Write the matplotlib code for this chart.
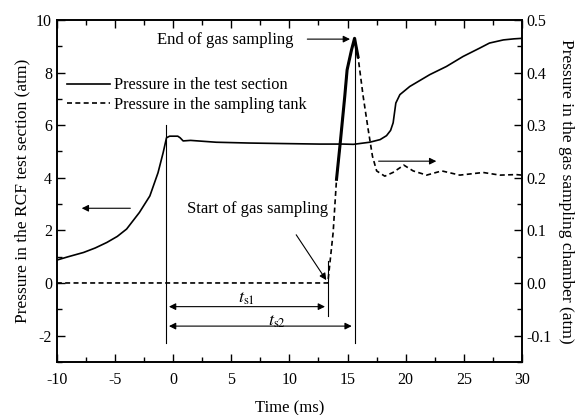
import matplotlib
matplotlib.use("Agg")
import matplotlib.pyplot as plt
from matplotlib.ticker import MultipleLocator, FormatStrFormatter

plt.rcParams['font.family'] = ['Liberation Serif', 'DejaVu Serif']
plt.rcParams['mathtext.fontset'] = 'stix'
plt.rcParams['axes.unicode_minus'] = False
plt.rcParams['font.size'] = 12

# Pressure in the test section (left axis, atm)
t_test = [-10, -9, -7.7, -6.7, -5.7, -4.8, -4.0, -2.9, -2.0, -1.3, -0.86, -0.57, -0.3, 0.4, 0.6, 0.86,
          1.5, 3.7, 6.5, 9.4, 12.6, 14.6, 15.5, 16.9, 17.8, 18.35, 18.7, 18.92, 19.15,
          19.5, 20.35, 22.07, 23.5, 24.93, 26.37, 27.2, 28.4, 29.3, 30]
p_test = [0.87, 1.0, 1.16, 1.33, 1.54, 1.77, 2.05, 2.68, 3.31, 4.19, 4.95, 5.52, 5.58, 5.58, 5.52, 5.4,
          5.42, 5.35, 5.32, 5.3, 5.28, 5.28, 5.27, 5.35, 5.45, 5.6, 5.8, 6.09, 6.84,
          7.16, 7.47, 7.92, 8.23, 8.61, 8.93, 9.12, 9.24, 9.28, 9.3]

# Pressure in the sampling tank (right axis, atm)
t_tank = [-10, 13.3, 13.76, 14.05, 14.4, 14.76, 14.96, 15.34, 15.6, 15.9, 16.34, 16.77,
          17.14, 17.5, 18.2, 18.9, 19.84, 20.64, 21.8, 23.1, 24.65, 26.66, 28.1, 29.5, 30]
p_tank = [0.0, 0.0, 0.096, 0.197, 0.273, 0.355, 0.405, 0.443, 0.465, 0.43, 0.355, 0.292,
          0.241, 0.213, 0.203, 0.21, 0.224, 0.213, 0.205, 0.213, 0.205, 0.21, 0.205, 0.206, 0.205]

t_start = 13.3
t_end = 15.6
t_comp = -0.6

fig, ax = plt.subplots(figsize=(5.8, 4.15), dpi=100)
fig.subplots_adjust(left=0.098, right=0.9, top=0.952, bottom=0.128)
ax2 = ax.twinx()

l1, = ax.plot(t_test, p_test, 'k-', lw=1.2, label='Pressure in the test section')
l2, = ax2.plot(t_tank, p_tank, 'k--', lw=1.2, dashes=(3, 2), label='Pressure in the sampling tank')
# dense data makes the rising part look thick
ax2.plot(t_tank[3:10], p_tank[3:10], 'k-', lw=2.2)

ax.set_xlim(-10, 30)
ax.set_ylim(-3, 10)
ax2.set_ylim(-0.15, 0.5)

ax.xaxis.set_major_locator(MultipleLocator(5))
ax.xaxis.set_minor_locator(MultipleLocator(2.5))
ax.yaxis.set_major_locator(MultipleLocator(2))
ax.yaxis.set_minor_locator(MultipleLocator(1))
ax2.yaxis.set_major_locator(MultipleLocator(0.1))
ax2.yaxis.set_minor_locator(MultipleLocator(0.05))
ax2.yaxis.set_major_formatter(FormatStrFormatter('%.1f'))

ax.tick_params(which='both', direction='in', top=True, right=False, width=1, labelsize=11.5)
ax.tick_params(which='major', length=6)
ax.tick_params(which='minor', length=3.5)
ax.tick_params(axis='x', pad=7)
ax2.tick_params(which='both', direction='in', width=1, labelsize=11.5)
ax2.tick_params(which='major', length=6)
ax2.tick_params(which='minor', length=3.5)
for a in (ax, ax2):
    for s in a.spines.values():
        s.set_linewidth(1.2)

ax.set_xlabel('Time (ms)', fontsize=12, labelpad=9)
ax.set_ylabel('Pressure in the RCF test section (atm)', fontsize=12.5)
ax2.set_ylabel('Pressure in the gas sampling chamber (atm)', rotation=270, va='bottom', fontsize=12.5)

# vertical markers
ax.plot([t_comp, t_comp], [6.0, -2.3], 'k-', lw=0.8)
ax.plot([t_end, t_end], [9.3, -2.3], 'k-', lw=0.8)
ax.plot([t_start, t_start], [0.85, -1.25], 'k-', lw=0.8)

arr = dict(arrowstyle='-|>', color='k', lw=0.8, mutation_scale=10)
darr = dict(arrowstyle='<|-|>', color='k', lw=0.8, mutation_scale=10)
ax.annotate('', xy=(t_comp, -0.9), xytext=(t_start, -0.9), arrowprops=darr)
ax.annotate('', xy=(t_comp, -1.64), xytext=(t_end, -1.64), arrowprops=darr)
ax.text(6.3, -0.6, r'$t_{\rm s1}$', ha='center', va='center', fontsize=13)
ax.text(8.9, -1.45, r'$t_{\rm s2}$', ha='center', va='center', fontsize=13)

ax.annotate('', xy=(-8.1, 2.84), xytext=(-3.44, 2.84), arrowprops=arr)
ax.annotate('', xy=(22.87, 4.63), xytext=(17.43, 4.63), arrowprops=arr)

ax.text(7.3, 2.8, 'Start of gas sampling', ha='center', va='center')
ax.annotate('', xy=(t_start, 0.02), xytext=(10.45, 1.92), arrowprops=arr)
ax.text(4.5, 9.24, 'End of gas sampling', ha='center', va='center')
ax.annotate('', xy=(15.45, 9.27), xytext=(11.3, 9.27), arrowprops=arr)

ax.legend(handles=[l1, l2], loc='upper left', bbox_to_anchor=(-0.01, 0.875), frameon=False,
          handlelength=2.6, handletextpad=0.3, labelspacing=0.2, borderaxespad=0.5,
          fontsize=11.8)

fig.savefig('out.png', dpi=100)
